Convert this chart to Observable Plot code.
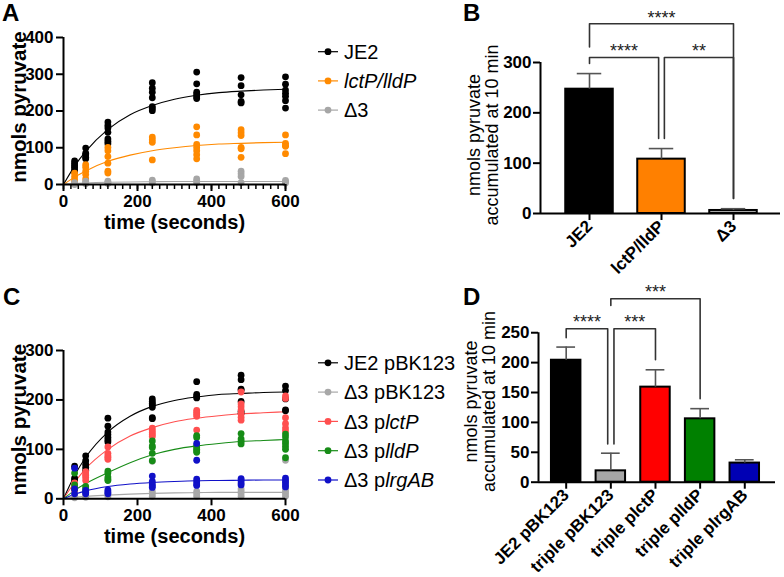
<!DOCTYPE html>
<html>
<head>
<meta charset="utf-8">
<script src="https://cdn.jsdelivr.net/npm/d3@7"></script>
<script src="https://cdn.jsdelivr.net/npm/@observablehq/plot@0.6"></script>
<style>
  body { margin: 0; background: #fff; }
  #fig { position: relative; width: 784px; height: 577px; overflow: hidden; background: #fff;
         font-family: "Liberation Sans", Arial, Helvetica, sans-serif; }
  .panel { position: absolute; }
  .panel svg { overflow: visible; }
  g[aria-label="significance"] text { letter-spacing: 1.5px; }
</style>
</head>
<body>
<div id="fig"></div>
<script>
const FONT = '"Liberation Sans", Arial, Helvetica, sans-serif';

// Sampling times (s) and times at which the fitted curves are drawn
const sampleTimes = [30, 60, 120, 240, 360, 480, 600];
const fitTimes = [0, 30, 60, 120, 180, 240, 300, 360, 420, 480, 540, 600];

// ---------- Panel A: pyruvate uptake, JE2 vs mutants ----------
const aNames = ["JE2", "lctP/lldP", "Δ3"];
const aItalic = [false, true, false];
const aColors = ["#000000", "#ff8a00", "#a6a6a6"];
const aJE2 = [
  [64, 58, 52, 47, 41, 35],
  [99, 85, 81, 74, 70],
  [170, 161, 154, 142, 124, 117, 111],
  [277, 262, 251, 236, 212, 207, 201],
  [306, 274, 251, 245, 239, 234],
  [291, 269, 244, 226, 222],
  [293, 273, 257, 248, 240, 228, 208]
];
const aLctpLldp = [
  [31, 22, 13, 6],
  [54, 47, 36, 27, 15],
  [101, 92, 76, 58, 36, 31],
  [129, 122, 115, 67],
  [157, 135, 109, 101, 92, 81, 70],
  [149, 141, 133, 101, 97, 74],
  [135, 112, 106, 104, 84]
];
const aDelta3 = [
  [5, 2, 0],
  [9, 5, 2],
  [9, 6, 3],
  [12, 8, 4],
  [15, 10, 5],
  [36, 29, 22, 5],
  [11, 8, 4]
];
const aFitJE2 = [0, 50, 90, 150, 190, 215, 232, 243, 250, 254, 257, 259];
const aFitLctpLldp = [0, 20, 37, 63, 80, 92, 100, 106, 110, 112, 114, 115];
const aFitDelta3 = [0, 2.5, 4, 6, 7, 7.5, 8, 8, 8, 8, 8, 8];
const aYTicks = [0, 100, 200, 300, 400];
const aXTicks = [0, 200, 400, 600];

// ---------- Panel B: accumulated at 10 min ----------
const bNames = ["JE2", "lctP/lldP", "Δ3"];
const bMeans = [247, 108, 6];
const bSD = [31, 21, 3.5];
const bFills = ["#000000", "#ff8000", "#a6a6a6"];
const bYTicks = [0, 100, 200, 300];
const bBrackets = [
  {from: 0, to: 2, level: 377, dropFrom: 331, dropTo: 30, label: "****"},
  {from: 0, to: 0.96, level: 310, dropFrom: 298, dropTo: 149, label: "****"},
  {from: 1.04, to: 2, level: 310, dropFrom: 149, dropTo: 30, label: "**"}
];

// ---------- Panel C: complementation time course ----------
const cNames = [
  [["JE2 pBK123", false]],
  [["Δ3 pBK123", false]],
  [["Δ3 p", false], ["lctP", true]],
  [["Δ3 p", false], ["lldP", true]],
  [["Δ3 p", false], ["lrgAB", true]]
];
const cColors = ["#000000", "#a8a8a8", "#ff4f4f", "#178c17", "#1010c8"];
const cJE2 = [
  [66, 42, 38],
  [87, 77, 70, 64, 58],
  [163, 147, 135, 130, 124, 119, 115],
  [202, 197, 193, 190, 185, 164, 162],
  [237, 211, 207, 204],
  [250, 241, 222, 220, 197, 177, 173],
  [228, 219, 202, 180, 178]
];
const cDelta3 = [
  [15, 10, 5, 2],
  [10, 6, 3],
  [12, 8, 4],
  [76, 15, 10, 5],
  [15, 10, 5],
  [20, 15, 10, 5],
  [78, 20, 15, 10, 5]
];
const cLctp = [
  [32, 27, 22, 18],
  [55, 50, 47, 43, 37],
  [105, 92, 87, 84, 80],
  [143, 138, 134, 130, 126],
  [179, 175, 171, 167, 139],
  [216, 192, 186, 180, 172, 165, 159],
  [208, 203, 164, 152, 143, 137]
];
const cLldp = [
  [52, 28, 20],
  [25, 21, 16],
  [56, 52, 44, 40, 37],
  [117, 107, 104, 92, 77],
  [128, 124, 108, 104, 100, 97, 94],
  [132, 121, 116, 111],
  [131, 125, 117, 112, 106, 100, 83]
];
const cLrgab = [
  [62, 20, 10],
  [17, 13, 10],
  [18, 14, 10],
  [46, 35, 30, 26, 23],
  [112, 78, 40, 35, 30, 27],
  [41, 37, 32, 28],
  [42, 37, 33, 28, 24]
];
const cFitJE2 = [0, 47, 84, 135, 167, 187, 199, 206, 211, 213, 215, 216];
const cFitDelta3 = [0, 3, 5, 7.5, 9.5, 11, 12, 12.5, 13, 13, 13, 13];
const cFitLctp = [0, 33, 61, 100, 127, 144, 156, 163, 168, 172, 174, 176];
const cFitLldp = [0, 17, 31, 53, 73, 89, 100, 107, 112, 116, 118, 120];
const cFitLrgab = [0, 9, 16, 25, 30, 33, 35, 36.5, 37, 37.5, 38, 38];
const cYTicks = [0, 100, 200, 300];
const cXTicks = [0, 200, 400, 600];

// ---------- Panel D: accumulated at 10 min, complemented strains ----------
const dNames = ["JE2 pBK123", "triple pBK123", "triple plctP", "triple plldP", "triple plrgAB"];
const dMeans = [204, 19, 159, 106, 32];
const dSD = [22, 29.5, 29, 17, 5.5];
const dFills = ["#000000", "#a6a6a6", "#ff0000", "#008000", "#0000b4"];
const dYTicks = [0, 50, 100, 150, 200, 250];
const dBrackets = [
  {from: 0, to: 0.93, level: 256.7, dropFrom: 241.6, dropTo: 64, label: "****"},
  {from: 1.07, to: 2, level: 256.7, dropFrom: 64, dropTo: 204.8, label: "***"},
  {from: 1, to: 3, level: 306.9, dropFrom: 295.7, dropTo: 139.6, label: "***"}
];

const yTitleTime = "nmols pyruvate";
const xTitleTime = "time (seconds)";
const yTitleBar = "nmols pyruvate\naccumulated at 10 min";

// ---------- helpers ----------
const fig = document.getElementById("fig");
function place(node, left, top, w, h) {
  const div = document.createElement("div");
  div.className = "panel";
  div.style.left = left + "px";
  div.style.top = top + "px";
  div.style.width = w + "px";
  div.style.height = h + "px";
  div.appendChild(node);
  fig.appendChild(div);
}
const plotStyle = {fontFamily: FONT, fontSize: "17px", color: "#000", background: "transparent", overflow: "visible"};

function timeCourse(series, opts) {
  const marks = [];
  for (const s of series) {
    marks.push(Plot.line(fitTimes.map((t, i) => ({t, v: s.fit[i]})),
      {x: "t", y: "v", stroke: s.color, strokeWidth: 1.1, curve: "monotone-x"}));
  }
  for (const s of series) {
    marks.push(Plot.dot(sampleTimes.flatMap((t, i) => s.reps[i].map(v => ({t, v}))),
      {x: "t", y: "v", fill: s.color, r: 3.4}));
  }
  if (opts.minor) {
    marks.push(Plot.axisX({ticks: opts.minor, tickSize: 5, tickFormat: () => "", strokeWidth: 1.5, label: null}));
  }
  marks.push(
    Plot.ruleY([0], {strokeWidth: 2}),
    Plot.ruleX([0], {strokeWidth: 2}),
    Plot.axisX({ticks: opts.xTicks, tickSize: 7, tickPadding: 3, strokeWidth: 2, fontWeight: "bold", fontSize: 17, label: null}),
    Plot.axisY({ticks: opts.yTicks, tickSize: 7, tickPadding: 3, strokeWidth: 2, fontWeight: "bold", fontSize: 17, label: null}),
    Plot.text([xTitleTime], {text: d => d, frameAnchor: "bottom", dy: opts.xTitleDy, fontWeight: "bold", fontSize: 20}),
    Plot.text([yTitleTime], {text: d => d, x: 0, y: opts.yMax / 2, dx: -44, dy: opts.yTitleDy, rotate: -90,
      fontWeight: "bold", fontSize: 20.5})
  );
  return Plot.plot({
    width: opts.width, height: opts.height,
    marginLeft: opts.marginLeft, marginRight: opts.marginRight,
    marginTop: opts.marginTop, marginBottom: opts.marginBottom,
    style: plotStyle,
    x: {domain: [0, 600], label: null},
    y: {domain: [0, opts.yMax], label: null},
    marks
  });
}

function barChart(names, means, sds, fills, brackets, opts) {
  const rows = names.map((name, i) => ({i, name, v: means[i], sd: sds[i], fill: fills[i]}));
  const paths = brackets.flatMap((b, k) => [
    {k, x: b.from, y: b.dropFrom}, {k, x: b.from, y: b.level},
    {k, x: b.to, y: b.level}, {k, x: b.to, y: b.dropTo}
  ]);
  const x0 = opts.xDomain[0];
  return Plot.plot({
    width: opts.width, height: opts.height,
    marginLeft: opts.marginLeft, marginRight: opts.marginRight,
    marginTop: opts.marginTop, marginBottom: opts.marginBottom,
    style: plotStyle,
    x: {domain: opts.xDomain, label: null},
    y: {domain: [0, opts.yMax], label: null},
    color: {type: "identity"},
    marks: [
      Plot.rect(rows, {x1: d => d.i - opts.halfBar, x2: d => d.i + opts.halfBar, y1: 0, y2: "v",
        fill: "fill", stroke: "#000", strokeWidth: 2}),
      Plot.ruleX(rows, {x: "i", y1: "v", y2: d => d.v + d.sd, stroke: "#555", strokeWidth: 1.6}),
      Plot.ruleY(rows, {y: d => d.v + d.sd, x1: d => d.i - opts.halfCap, x2: d => d.i + opts.halfCap, stroke: "#555", strokeWidth: 1.6}),
      Plot.line(paths, {x: "x", y: "y", z: "k", stroke: "#333", strokeWidth: 1.6}),
      Plot.text(brackets, {x: d => (d.from + d.to) / 2, y: "level", text: "label", dy: -6, fontSize: 18, fill: "#222", ariaLabel: "significance"}),
      Plot.ruleY([0], {strokeWidth: 2}),
      Plot.ruleX([x0], {y1: 0, y2: opts.yTicks[opts.yTicks.length - 1], strokeWidth: 2}),
      Plot.axisY({ticks: opts.yTicks, tickSize: 7, tickPadding: 2, strokeWidth: 2, fontWeight: "bold", fontSize: 17, label: null}),
      Plot.axisX({ticks: names.map((n, i) => i), tickFormat: i => names[i], tickRotate: -45, tickSize: 7, tickPadding: 3,
        strokeWidth: 2, fontWeight: "bold", fontSize: 17, label: null}),
      Plot.text([yTitleBar], {text: d => d, x: x0, y: opts.titleY, dx: opts.titleDx, dy: opts.titleDy, rotate: -90,
        lineHeight: 1.0, fontSize: 18})
    ]
  });
}

// ---------- panels ----------
place(timeCourse([
  {reps: aJE2, fit: aFitJE2, color: aColors[0]},
  {reps: aLctpLldp, fit: aFitLctpLldp, color: aColors[1]},
  {reps: aDelta3, fit: aFitDelta3, color: aColors[2]}
], {
  width: 300, height: 240, marginLeft: 63, marginRight: 15, marginTop: 37, marginBottom: 56,
  yMax: 400, yTicks: aYTicks, xTicks: aXTicks, minor: d3.range(0, 601, 20), xTitleDy: 44, yTitleDy: -4
}), 0, 0, 300, 240);

place(barChart(bNames, bMeans, bSD, bFills, bBrackets, {
  width: 344, height: 280, marginLeft: 100, marginRight: 4, marginTop: 11.67, marginBottom: 67,
  xDomain: [-0.6806, 2.6528], yMax: 400, yTicks: bYTicks, halfBar: 0.33, halfCap: 0.17,
  titleY: 150, titleDx: -57, titleDy: -3
}), 440, 0, 344, 280);

place(timeCourse([
  {reps: cJE2, fit: cFitJE2, color: cColors[0]},
  {reps: cDelta3, fit: cFitDelta3, color: cColors[1]},
  {reps: cLctp, fit: cFitLctp, color: cColors[2]},
  {reps: cLldp, fit: cFitLldp, color: cColors[3]},
  {reps: cLrgab, fit: cFitLrgab, color: cColors[4]}
], {
  width: 300, height: 247, marginLeft: 63, marginRight: 15, marginTop: 20, marginBottom: 78.7,
  yMax: 300, yTicks: cYTicks, xTicks: cXTicks, minor: null, xTitleDy: 44, yTitleDy: -5
}), 0, 330, 300, 247);

place(barChart(dNames, dMeans, dSD, dFills, dBrackets, {
  width: 344, height: 297, marginLeft: 98, marginRight: 9, marginTop: 2, marginBottom: 95.3,
  xDomain: [-0.62, 4.688], yMax: 334, yTicks: dYTicks, halfBar: 0.33, halfCap: 0.21,
  titleY: 125, titleDx: -58, titleDy: -6
}), 440, 280, 344, 297);

// ---------- panel letters and legends ----------
const overlay = d3.select(fig).append("svg")
  .attr("width", 784).attr("height", 577)
  .style("position", "absolute").style("left", 0).style("top", 0)
  .style("pointer-events", "none")
  .style("font-family", FONT);

[["A", 2, 21], ["B", 463, 21], ["C", 3, 305], ["D", 463, 305]].forEach(([t, x, y]) => {
  overlay.append("text").attr("x", x).attr("y", y).attr("font-size", 24).attr("font-weight", "bold").text(t);
});

function legend(entries, colors, top, step) {
  entries.forEach((parts, i) => {
    const y = top + i * step;
    overlay.append("line").attr("x1", 318).attr("x2", 338).attr("y1", y).attr("y2", y)
      .attr("stroke", colors[i]).attr("stroke-width", 1.2);
    overlay.append("circle").attr("cx", 328).attr("cy", y).attr("r", 3.4).attr("fill", colors[i]);
    const txt = overlay.append("text").attr("x", 344).attr("y", y).attr("dy", "0.36em").attr("font-size", 20);
    parts.forEach(([s, it]) => txt.append("tspan").attr("font-style", it ? "italic" : "normal").text(s));
  });
}
legend(aNames.map((n, i) => [[n, aItalic[i]]]), aColors, 51.7, 29.2);
legend(cNames, cColors, 362.8, 29.3);
</script>
</body>
</html>
